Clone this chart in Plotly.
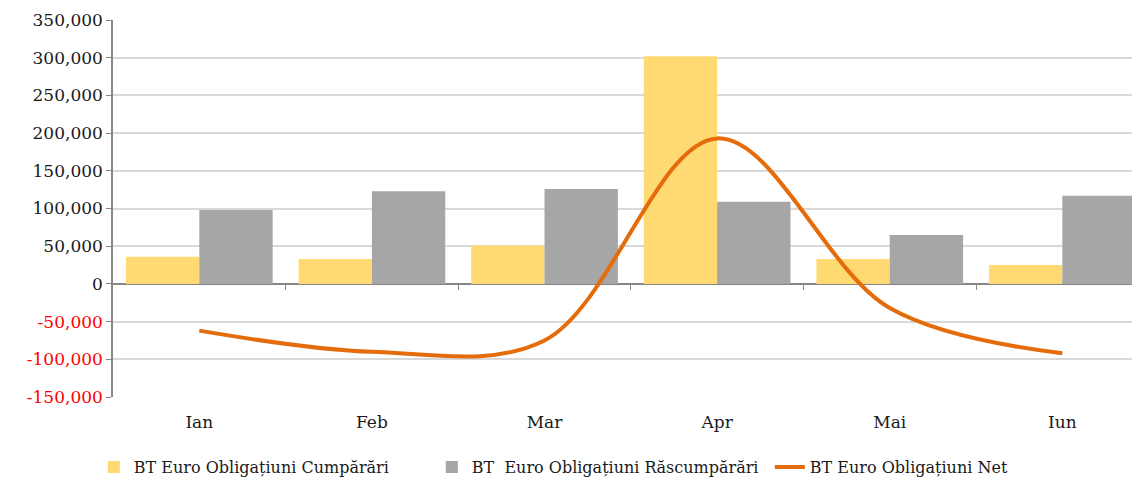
import plotly.graph_objects as go

months = ["Ian", "Feb", "Mar", "Apr", "Mai", "Iun"]
cumparari = [36000, 33000, 51000, 302000, 33000, 25000]
rascumparari = [98000, 123000, 126000, 109000, 65000, 117000]
net = [-62000, -90000, -75000, 193000, -32000, -92000]

tick_vals = [350000, 300000, 250000, 200000, 150000, 100000, 50000, 0, -50000, -100000, -150000]
tick_text = ["350,000", "300,000", "250,000", "200,000", "150,000", "100,000", "50,000", "0",
             "<span style='color:#FF0000'>-50,000</span>",
             "<span style='color:#FF0000'>-100,000</span>",
             "<span style='color:#FF0000'>-150,000</span>"]

FONT = "DejaVu Serif"

fig = go.Figure()
fig.add_trace(go.Bar(x=months, y=cumparari, name="BT Euro Obligațiuni Cumpărări",
                     marker=dict(color="#FFDA73", line=dict(width=0))))
fig.add_trace(go.Bar(x=months, y=rascumparari, name="BT\u00a0 Euro Obligațiuni Răscumpărări",
                     marker=dict(color="#A6A6A6", line=dict(width=0))))
fig.add_trace(go.Scatter(x=months, y=net, name="BT Euro Obligațiuni Net", mode="lines",
                         line=dict(color="#E46C0A", width=4, shape="spline", smoothing=1.0)))

fig.update_layout(
    width=1132, height=470,
    margin=dict(l=105, r=0, t=12, b=81, autoexpand=False),
    paper_bgcolor="white", plot_bgcolor="white",
    barmode="group", bargap=0.15, bargroupgap=0,
    font=dict(family=FONT, size=17, color="#1a1a1a"),
    legend=dict(orientation="h", x=0.475, xanchor="center", y=-0.186, yanchor="middle",
                font=dict(family=FONT, size=16), traceorder="normal",
                itemwidth=30, entrywidth=293, tracegroupgap=0),
    xaxis=dict(type="category", range=[-0.5, 5.45], showline=False,
               ticks="outside", ticklen=10, tickcolor="rgba(0,0,0,0)",
               showgrid=False, automargin=False, tickfont=dict(family=FONT, size=17)),
    xaxis2=dict(type="linear", overlaying="x", anchor="free", position=0.3,
                range=[-0.5, 5.45], showline=False, showgrid=False, zeroline=False,
                ticks="outside", ticklen=5, tickwidth=1, tickcolor="#868686",
                tickvals=[0.5, 1.5, 2.5, 3.5, 4.5], showticklabels=False, automargin=False),
    yaxis=dict(range=[-150000, 350000], tickvals=tick_vals, ticktext=tick_text,
               showgrid=True, gridcolor="#D9D9D9", gridwidth=1.5,
               zeroline=True, zerolinecolor="#868686", zerolinewidth=1.5,
               showline=True, linecolor="#868686", linewidth=1.5,
               ticks="outside", ticklen=5, tickcolor="#868686", automargin=False,
               tickfont=dict(family=FONT, size=17)),
)
fig.add_trace(go.Scatter(x=[0], y=[0], xaxis="x2", mode="markers", marker=dict(opacity=0),
                         showlegend=False, hoverinfo="skip"))

fig.write_html("out.html")
